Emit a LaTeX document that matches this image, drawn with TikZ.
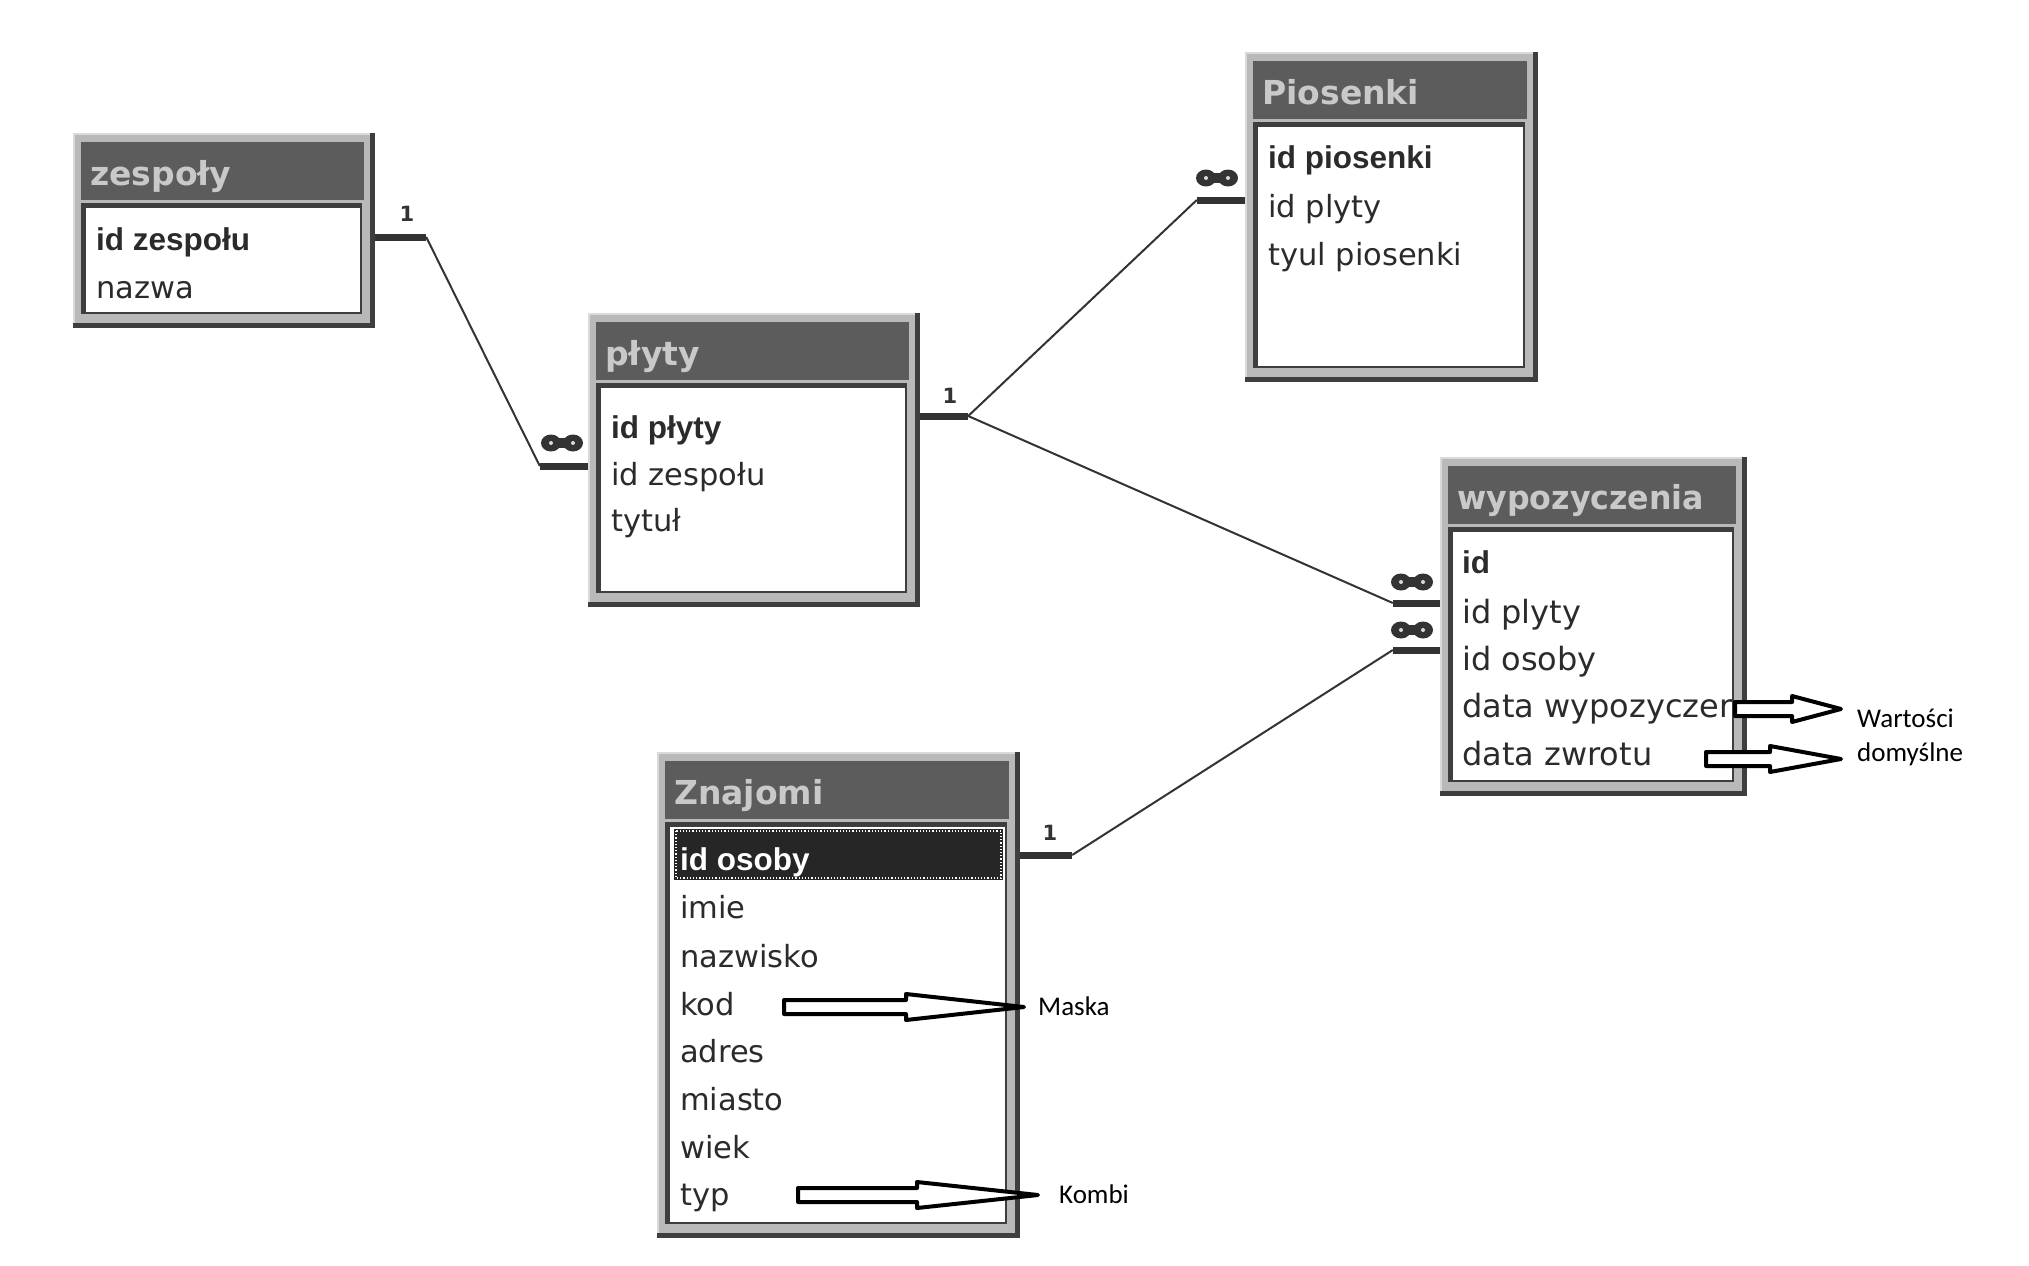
\documentclass[tikz,border=0pt]{standalone}
\usepackage{graphicx}
\usepackage{fontspec}
\setmainfont{DejaVu Sans}
\newfontfamily\boldrow{Liberation Sans}
\newfontfamily\notefont{Carlito}
\usetikzlibrary{calc}
\definecolor{framegray}{HTML}{B9B9B9}
\definecolor{framedark}{HTML}{3E3E3E}
\definecolor{framelight}{HTML}{DADADA}
\definecolor{titlebar}{HTML}{5C5C5C}
\definecolor{titletext}{HTML}{C9C9C9}
\definecolor{rowtext}{HTML}{2B2B2B}
\definecolor{linecol}{HTML}{333333}
\definecolor{hilite}{HTML}{262626}
\tikzset{
  tabframe/.style={rectangle, fill=framegray, inner sep=0pt, draw=none},
  ttl/.style={anchor=base west, inner sep=0pt, text=titletext, font=\fontsize{33}{34}\selectfont\bfseries},
  fld/.style={anchor=base west, inner sep=0pt, text=rowtext, font=\fontsize{30.5}{32}\selectfont},
  keyfld/.style={anchor=base west, inner sep=0pt, text=rowtext, font=\fontsize{31.5}{32}\selectfont\boldrow\bfseries},
  stub/.style={line width=7pt, draw=linecol},
  rel/.style={line width=2pt, draw=linecol},
  card/.style={inner sep=0pt, font=\fontsize{21}{21}\selectfont\bfseries, text=linecol},
  note/.style={anchor=base west, inner sep=0pt, font=\fontsize{27}{28}\selectfont\notefont, text=black},
  blockarrow/.style={draw=black, fill=white, line width=4pt, line join=round},
  infty/.pic={
    \fill[linecol] (-11,0) ellipse [x radius=10, y radius=8.5];
    \fill[linecol] (11,0) ellipse [x radius=10, y radius=8.5];
    \fill[linecol] (-11,-5) rectangle (11,5);
    \fill[framelight] (-11,0) circle (2);
    \fill[framelight] (11,0) circle (2);
  }
}
% name, x1, y1, x2, y2, title
\newcommand\dbtab[6]{%
  \node[tabframe, minimum width={(#4-#2)*1pt}, minimum height={(#5-#3)*1pt}] (#1) at ({(#2+#4)/2},{(#3+#5)/2}) {};
  \fill[framedark] (#2,{#5-5}) rectangle (#4,#5);
  \fill[framedark] ({#4-5},#3) rectangle (#4,#5);
  \fill[framelight] (#2,#3) rectangle ({#4-5},{#3+2});
  \fill[framelight] (#2,#3) rectangle ({#2+2},{#5-5});
  \fill[titlebar] ({#2+8},{#3+9}) rectangle ({#4-11},{#3+67});
  \fill[framedark] ({#2+8},{#3+70}) rectangle ({#4-13},{#5-14});
  \fill[white] ({#2+13},{#3+75}) rectangle ({#4-15},{#5-16});
  \node[ttl] (#1-t) at ({#2+17},{#3+52}) {#6};
}
% a block (hollow) arrow: name, tail x, head base x, tip x, centre y
\newcommand\blockarr[5]{%
  \draw[blockarrow] (#2,{#5-7}) -- (#3,{#5-7}) -- (#3,{#5-13}) -- (#4,#5) coordinate (#1)
    -- (#3,{#5+13}) -- (#3,{#5+7}) -- (#2,{#5+7}) -- cycle;
}
\begin{document}
\begin{tikzpicture}[x=1pt,y=-1pt]
\useasboundingbox[fill=white] (0,0) rectangle (2029,1266);

% ---------- tables ----------
\dbtab{zespoly}{73}{133}{375}{328}{zespoły}
\node[keyfld] (zs1) at (96,250) {id zespołu};
\node[fld] (zs2) at (96,298) {nazwa};

\dbtab{plyty}{588}{313}{920}{607}{płyty}
\node[keyfld] (pl1) at (611,438) {id płyty};
\node[fld] (pl2) at (611,485) {id zespołu};
\node[fld] (pl3) at (611,531) {tytuł};

\dbtab{piosenki}{1245}{52}{1538}{382}{Piosenki}
\node[keyfld] (pi1) at (1268,168) {id piosenki};
\node[fld] (pi2) at (1268,217) {id plyty};
\node[fld] (pi3) at (1268,265) {tyul piosenki};

\dbtab{wyp}{1440}{457}{1747}{796}{\scalebox{0.96}[1]{wypozyczenia}}
\node[keyfld] (wy1) at (1462,573) {id};
\node[fld, font=\fontsize{32}{33}\selectfont] (wy2) at (1462,623) {id plyty};
\node[fld, font=\fontsize{32}{33}\selectfont] (wy3) at (1462,670) {id osoby};
\node[fld, font=\fontsize{32}{33}\selectfont] (wy4) at (1462,717) {data wypozyczer};
\node[fld, font=\fontsize{32}{33}\selectfont] (wy5) at (1462,765) {data zwrotu};

\dbtab{znajomi}{657}{752}{1020}{1238}{Znajomi}
\fill[hilite] (674,829) rectangle (1003,880);
\draw[white, dotted, line width=1.2pt] (676,831) rectangle (1001,878);
\node[keyfld, text=white] (zn1) at (680,870) {id osoby};
\node[fld] (zn2) at (680,918) {imie};
\node[fld] (zn3) at (680,967) {nazwisko};
\node[fld] (zn4) at (680,1015) {kod};
\node[fld] (zn5) at (680,1062) {adres};
\node[fld] (zn6) at (680,1110) {miasto};
\node[fld] (zn7) at (680,1158) {wiek};
\node[fld] (zn8) at (680,1205) {typ};

% ---------- relation end points ----------
\coordinate (zsA) at (zespoly.east |- 0,237);
\coordinate (zsB) at ([xshift=51pt]zsA);
\coordinate (plA) at (plyty.west |- 0,466);
\coordinate (plB) at ([xshift=-48pt]plA);
\coordinate (plC) at (plyty.east |- 0,416);
\coordinate (plD) at ([xshift=48pt]plC);
\coordinate (piA) at (piosenki.west |- 0,200);
\coordinate (piB) at ([xshift=-48pt]piA);
\coordinate (wyA) at (wyp.west |- 0,603);
\coordinate (wyB) at ([xshift=-47pt]wyA);
\coordinate (wyC) at (wyp.west |- 0,650);
\coordinate (wyD) at ([xshift=-47pt]wyC);
\coordinate (znA) at (znajomi.east |- 0,855);
\coordinate (znB) at ([xshift=52pt]znA);

% ---------- relations ----------
\draw[rel] (zsB) -- (plB);
\draw[rel] (plD) -- (piB);
\draw[rel] (plD) -- (wyB);
\draw[rel] (znB) -- (wyD);

\draw[stub] (zsA) -- (zsB);
\draw[stub] (plA) -- (plB);
\draw[stub] (plC) -- (plD);
\draw[stub] (piA) -- (piB);
\draw[stub] (wyA) -- (wyB);
\draw[stub] (wyC) -- (wyD);
\draw[stub] (znA) -- (znB);

\node[card] (c1) at (407,214) {1};
\node[card] (c2) at (950,396) {1};
\node[card] (c3) at (1050,833) {1};
\pic at (562,443) {infty};
\pic at (1217,178) {infty};
\pic at (1412,582) {infty};
\pic at (1412,630) {infty};

% ---------- annotations ----------
\blockarr{a1}{1735}{1792}{1841}{709}
\blockarr{a2}{1706}{1770}{1841}{759}
\blockarr{a3}{784}{906}{1024}{1007}
\blockarr{a4}{798}{917}{1038}{1195}
\node[note] (n1) at (1857,727) {Wartości};
\node[note] (n2) at (1857,761) {domyślne};
\node[note] (n3) at (1038,1015) {Maska};
\node[note] (n4) at (1059,1203) {Kombi};
\end{tikzpicture}
\end{document}
